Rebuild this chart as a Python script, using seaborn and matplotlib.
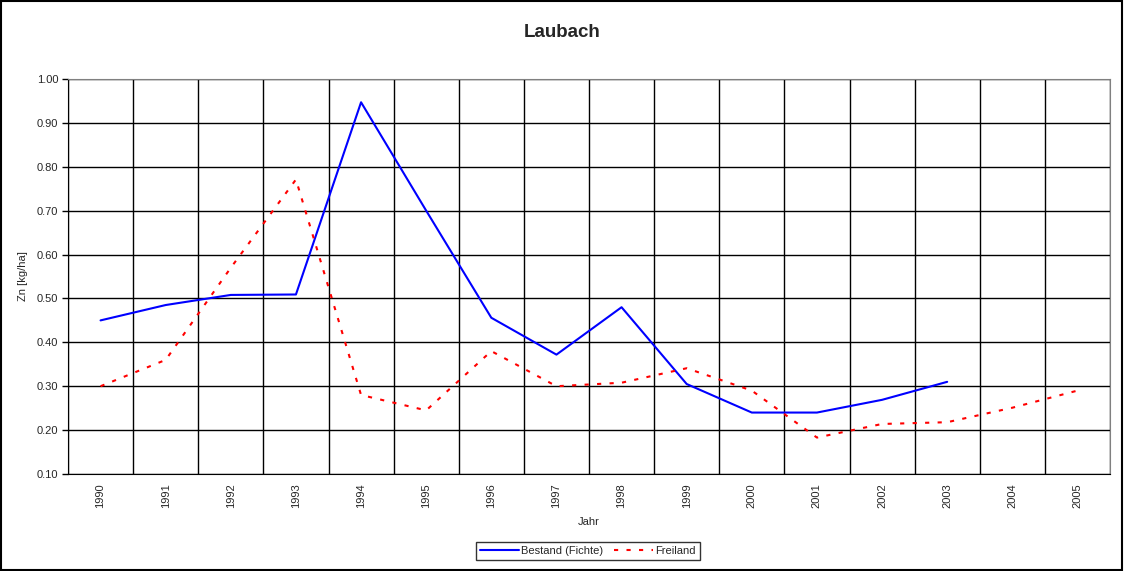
import matplotlib
matplotlib.use("Agg")
import matplotlib.pyplot as plt
import seaborn as sns
import pandas as pd
import numpy as np

# data
years = [str(y) for y in range(1990, 2006)]
bestand = [0.45, 0.485, 0.508, 0.509, 0.947, 0.70, 0.456, 0.372, 0.48, 0.305,
           0.24, 0.24, 0.269, 0.31, np.nan, np.nan]
freiland = [0.30, 0.36, 0.57, 0.771, 0.28, 0.245, 0.38, 0.30, 0.308, 0.341,
            0.29, 0.183, 0.214, 0.218, 0.251, 0.29]
yticks = [0.1, 0.2, 0.3, 0.4, 0.5, 0.6, 0.7, 0.8, 0.9, 1.0]

df = pd.DataFrame({
    "pos": list(range(len(years))) * 2,
    "Zn": bestand + freiland,
    "Serie": ["Bestand (Fichte)"] * len(years) + ["Freiland"] * len(years),
})

sns.set_style("white")
plt.rcParams["font.family"] = ["Liberation Sans", "DejaVu Sans"]

fig = plt.figure(figsize=(11.24, 5.71), dpi=100)
ax = fig.add_axes([68 / 1124, 1 - 474 / 571, (1110 - 68) / 1124, (474 - 79) / 571])

sns.lineplot(data=df, x="pos", y="Zn", hue="Serie", style="Serie",
             palette={"Bestand (Fichte)": "#0000ff", "Freiland": "#ff0000"},
             dashes={"Bestand (Fichte)": "", "Freiland": (2, 4)},
             linewidth=1.5, ax=ax, legend=False)

ax.set_xlim(-0.5, len(years) - 0.5)
ax.set_ylim(0.1, 1.0)
ax.set_xticks(range(len(years)))
ax.set_xticklabels(years, rotation=90, fontsize=8)
ax.set_xticks(np.arange(-0.5, len(years)), minor=True)
ax.tick_params(axis="x", which="major", length=0, pad=7)
ax.tick_params(axis="x", which="minor", length=4, width=1, color="black", direction="out")
ax.set_yticks(yticks)
ax.set_yticklabels([f"{v:.2f}" for v in yticks], fontsize=8)
ax.tick_params(axis="y", length=4, width=1, color="black", direction="out", left=True, pad=3)
ax.grid(False)
ax.grid(True, axis="y", which="major", color="black", linewidth=1)
ax.grid(True, axis="x", which="minor", color="black", linewidth=1)
for s in ["left", "bottom"]:
    ax.spines[s].set_color("black")
for s in ["top", "right"]:
    ax.spines[s].set_color("#808080")
ax.set_xlabel("Jahr", fontsize=8, labelpad=6)
ax.set_ylabel("Zn [kg/ha]", fontsize=8, labelpad=6)

fig.suptitle("Laubach", x=0.5, y=1 - 24 / 571, fontsize=13.5, fontweight="bold", va="top")

handles = [plt.Line2D([], [], color="#0000ff", linewidth=1.5),
           plt.Line2D([], [], color="#ff0000", linewidth=1.5, dashes=(2, 4))]
leg = fig.legend(handles, ["Bestand (Fichte)", "Freiland"], ncol=2,
                 loc="center", bbox_to_anchor=(588 / 1124, 1 - 551 / 571),
                 fontsize=8, frameon=True, fancybox=False, handlelength=3.5,
                 handletextpad=0.2, columnspacing=1.0, borderpad=0.4)
leg.get_frame().set_edgecolor("black")
leg.get_frame().set_linewidth(1)

fig.patches.append(plt.Rectangle((0.0005, 0.001), 0.998, 0.997, transform=fig.transFigure,
                                 fill=False, edgecolor="black", linewidth=1.5))

fig.savefig("out.png", dpi=100)
